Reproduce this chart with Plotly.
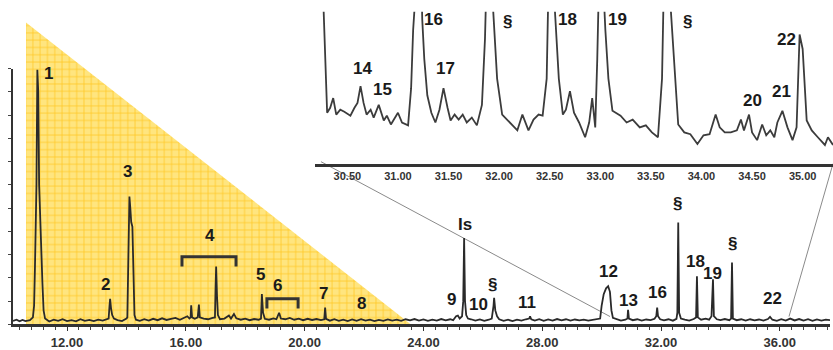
import plotly.graph_objects as go

# ---------------- data ----------------
# main chromatogram (retention time in min, detector response)
main_t = [10.18, 10.3, 10.4, 10.5, 10.6, 10.75, 10.85, 10.89, 10.92, 10.97, 11.0, 11.03, 11.06, 11.09, 11.14, 11.17, 11.21, 11.26,
          11.4, 11.55, 11.7, 11.85, 12.0, 12.15, 12.3, 12.45, 12.6, 12.75, 12.9, 13.05, 13.2, 13.35,
          13.4, 13.43, 13.45, 13.48, 13.52, 13.58, 13.7, 13.85, 13.95, 14.0,
          14.03, 14.07, 14.1, 14.13, 14.16, 14.2, 14.23, 14.27, 14.32,
          14.45, 14.6, 14.75, 14.9, 15.05, 15.2, 15.35, 15.5, 15.65, 15.8, 15.95, 16.05, 16.12,
          16.16, 16.18, 16.21, 16.3, 16.4, 16.44, 16.47, 16.6, 16.75, 16.9,
          16.98, 17.0, 17.02, 17.05, 17.08, 17.15, 17.3, 17.45, 17.52, 17.62, 17.7, 17.85, 18.0, 18.15, 18.3, 18.45,
          18.53, 18.56, 18.6, 18.66, 18.8, 18.95, 19.05, 19.14, 19.2, 19.35, 19.5, 19.65, 19.8, 19.95, 20.1, 20.25, 20.4, 20.55,
          20.66, 20.69, 20.72, 20.85, 21.0, 21.15, 21.3, 21.45, 21.6, 21.75, 21.9, 22.05, 22.2, 22.35, 22.5, 22.65, 22.8, 22.95,
          23.1, 23.25, 23.4, 23.55, 23.7, 23.85, 24.0, 24.15, 24.3, 24.45, 24.6, 24.75, 24.9, 25.0,
          25.1, 25.16, 25.22, 25.3, 25.34, 25.37, 25.4, 25.44, 25.5, 25.6, 25.75, 25.9, 26.05, 26.2, 26.3,
          26.36, 26.38, 26.42, 26.48, 26.55, 26.7, 26.85, 27.0, 27.15, 27.3, 27.45,
          27.56, 27.59, 27.63, 27.75, 27.9, 28.05, 28.2, 28.35, 28.5, 28.65, 28.8, 28.95, 29.1, 29.25, 29.4, 29.55, 29.7, 29.85,
          29.95, 30.0, 30.07, 30.15, 30.22, 30.28, 30.33, 30.38, 30.5, 30.65, 30.8,
          30.87, 30.89, 30.92, 31.05, 31.2, 31.35, 31.5, 31.65, 31.78,
          31.84, 31.87, 31.9, 31.97, 32.1, 32.25, 32.4, 32.52,
          32.55, 32.58, 32.61, 32.67, 32.8, 32.95, 33.1, 33.18,
          33.21, 33.24, 33.35, 33.5, 33.62, 33.7,
          33.75, 33.78, 33.88, 34.0, 34.15, 34.3, 34.36,
          34.39, 34.42, 34.55, 34.7, 34.85, 35.0, 35.15, 35.3, 35.45, 35.6,
          35.67, 35.75, 35.9, 36.05, 36.2, 36.35, 36.5, 36.65, 36.8, 36.95, 37.1, 37.25, 37.4, 37.55, 37.69]
main_v = [1.5, 2.0, 1.3, 1.9, 1.4, 1.8, 3.0, 8.0, 25.0, 60.0, 109.5, 100.0, 60.0, 45.0, 28.0, 18.0, 6.0, 2.5,
          1.2, 2.0, 1.5, 2.2, 1.4, 1.8, 1.3, 2.2, 1.5, 1.9, 1.4, 2.0, 1.6, 2.2,
          2.5, 8.0, 11.0, 7.0, 4.0, 2.5, 1.8, 1.4, 2.0, 2.5,
          3.0, 25.0, 55.0, 50.0, 44.0, 42.0, 20.0, 4.0, 2.0,
          1.5, 2.2, 1.6, 2.4, 1.8, 2.6, 1.9, 2.4, 2.8, 2.0, 2.8, 3.5, 2.5,
          3.0, 8.2, 3.0, 2.4, 3.0, 8.5, 3.0, 2.5, 2.2, 2.8,
          3.0, 15.0, 24.9, 12.0, 4.0, 2.2, 2.5, 3.8, 2.5, 4.5, 2.6, 2.0, 2.5, 1.8, 2.3, 2.0,
          2.5, 13.0, 5.0, 2.4, 2.0, 2.6, 2.2, 5.0, 2.5, 2.2, 2.8, 2.0, 2.5, 1.8, 2.4, 1.9, 2.3, 1.8,
          2.2, 7.2, 2.4, 1.6, 2.2, 1.5, 2.0, 1.4, 2.1, 1.5, 2.2, 1.6, 2.0, 1.4, 1.9, 1.5, 2.1, 1.6,
          2.0, 1.5, 2.2, 1.7, 2.3, 1.6, 2.1, 1.5, 2.0, 1.6, 2.3, 1.7, 2.2, 1.8,
          3.5, 3.8, 2.5, 3.5, 10.0, 37.1, 10.0, 4.0, 2.5, 2.2, 1.6, 2.1, 1.5, 2.0, 2.5,
          8.0, 11.4, 6.0, 3.5, 2.2, 1.5, 2.0, 1.4, 2.0, 1.6, 2.2,
          2.5, 3.5, 2.2, 1.6, 2.2, 1.5, 2.1, 1.6, 2.3, 1.7, 2.2, 1.6, 2.1, 1.7, 2.0, 1.6, 2.0, 2.3,
          2.5, 8.0, 13.0, 15.5, 16.4, 14.0, 6.0, 2.8, 2.2, 1.6, 2.0,
          2.5, 6.3, 2.5, 1.8, 2.2, 1.6, 2.1, 1.8, 2.4,
          3.5, 7.2, 3.5, 2.2, 1.7, 2.2, 1.6, 2.4,
          5.0, 43.8, 5.0, 2.5, 2.0, 1.6, 2.3, 3.0,
          20.7, 3.0, 2.0, 2.5, 2.0, 3.5,
          19.4, 3.5, 2.2, 1.8, 2.3, 1.8, 2.5,
          26.6, 2.5, 1.8, 2.2, 1.6, 2.2, 1.7, 2.1, 1.6, 2.3,
          3.2, 2.0, 1.5, 2.2, 1.6, 2.5, 1.7, 2.3, 1.6, 2.2, 1.5, 2.1, 1.6, 2.0, 1.8]

# inset (enlarged 30.2 - 35.3 min region)
inset_t = [30.24, 30.28, 30.30, 30.33, 30.36, 30.39, 30.43, 30.47, 30.53, 30.57, 30.60, 30.63, 30.66, 30.69, 30.73, 30.76,
           30.81, 30.86, 30.89, 30.93, 30.97, 31.00, 31.04, 31.10, 31.13, 31.15, 31.22, 31.24, 31.26, 31.29, 31.33, 31.37,
           31.41, 31.45, 31.49, 31.52, 31.56, 31.60, 31.64, 31.68, 31.73, 31.78, 31.83, 31.86, 31.89, 31.95, 31.98, 32.03,
           32.08, 32.13, 32.18, 32.23, 32.29, 32.34, 32.39, 32.43, 32.47, 32.50, 32.56, 32.59, 32.63, 32.66, 32.70, 32.74,
           32.79, 32.85, 32.89, 32.92, 32.95, 32.97, 33.00, 33.05, 33.08, 33.12, 33.20, 33.26, 33.32, 33.39, 33.45, 33.51,
           33.57, 33.61, 33.64, 33.71, 33.74, 33.77, 33.83, 33.89, 33.96, 34.02, 34.08, 34.14, 34.18, 34.23, 34.29, 34.35,
           34.39, 34.42, 34.47, 34.50, 34.55, 34.60, 34.64, 34.68, 34.72, 34.75, 34.80, 34.85, 34.90, 34.94, 34.97, 35.00,
           35.04, 35.09, 35.15, 35.22, 35.25, 35.30]
inset_v = [150, 69, 33.5, 36.8, 43.2, 32.3, 35.5, 34.2, 31.6, 36.8, 40, 51, 40, 32.3, 35.5, 30.3,
           38.7, 28.4, 31.6, 25.8, 30.3, 33.5, 27.1, 25.2, 49.7, 88, 160, 95, 69, 45, 33.5, 27.1,
           35.5, 49.7, 36.8, 28.4, 32.3, 29, 32.3, 27.1, 30.3, 25.2, 38.7, 82, 160, 88, 56, 32.3,
           29, 25.8, 21.9, 32.3, 21.9, 29, 32.3, 31.6, 56, 160, 88, 56, 32.3, 35.5, 47.7, 33.5,
           27.1, 17.4, 27.1, 43.2, 23.9, 69, 160, 88, 56, 34.8, 31.6, 27.1, 29, 23.9, 25.2, 20.6,
           17.4, 56, 160, 88, 49.7, 25.8, 20.6, 19.4, 12.9, 18.7, 19.4, 32.3, 23.9, 20.6, 20.6, 21.9,
           29, 21.9, 32.3, 20.6, 15.5, 25.8, 18.7, 21.9, 17.4, 27.1, 34.8, 23.9, 15.5, 23.9, 85, 75.5,
           28.4, 21.9, 17.4, 12.3, 17.4, 12.3]

# peak labels on the main chromatogram
main_labels = ["1", "2", "3", "4", "5", "6", "7", "8", "9", "Is", "10", "§", "11", "12", "13", "16", "§", "18", "19", "§", "22"]
main_label_t = [11.36, 13.28, 14.02, 16.81, 18.53, 19.10, 20.62, 21.90, 24.93, 25.40, 25.87, 26.34, 27.49,
                30.22, 30.89, 31.87, 32.57, 33.17, 33.74, 34.42, 35.77]
main_label_v = [107.9, 17.3, 65.7, 38.4, 21.5, 16.9, 13.1, 8.9, 10.5, 43.0, 8.4, 17.3, 9.3,
                22.8, 10.1, 13.5, 51.8, 27.0, 21.9, 34.6, 11.0]

# peak labels in the inset
inset_labels = ["14", "15", "16", "17", "§", "18", "19", "§", "20", "21", "22"]
inset_label_t = [30.65, 30.85, 31.35, 31.47, 32.08, 32.68, 33.17, 33.86, 34.50, 34.79, 34.84]
inset_label_v = [62.6, 49.0, 94.8, 62.6, 93.5, 94.8, 94.8, 93.5, 41.3, 47.7, 82.0]

# group brackets (retention-time span, bar level, foot level)
bracket_t0 = [15.87, 18.73]
bracket_t1 = [17.69, 19.78]
bracket_top = [29.1, 11.0]
bracket_foot = [24.9, 6.8]

W, H = 833, 350
LABEL_FONT = "Liberation Sans, Arial, sans-serif"
DARK = "#2a2a2a"

fig = go.Figure()

# background decoration: yellow gridded triangle (pixel-space axes x/y)
fig.add_trace(go.Scatter(
    x=[26, 26, 411, 26], y=[23, 331, 331, 23], xaxis="x", yaxis="y",
    mode="lines", line=dict(width=0), fill="toself",
    fillcolor="#FFE47C",
    fillpattern=dict(shape="+", bgcolor="#FFE57F", fgcolor="#FFC828", size=7.3, solidity=0.2, fillmode="replace"),
    hoverinfo="skip", showlegend=False))

# zoom connector lines
fig.add_trace(go.Scatter(x=[321, 610], y=[165, 323], xaxis="x", yaxis="y", mode="lines",
                         line=dict(color="#8a8a8a", width=1), hoverinfo="skip", showlegend=False))
fig.add_trace(go.Scatter(x=[833, 789], y=[167, 323], xaxis="x", yaxis="y", mode="lines",
                         line=dict(color="#8a8a8a", width=1), hoverinfo="skip", showlegend=False))

# main chromatogram
fig.add_trace(go.Scatter(x=main_t, y=main_v, xaxis="x2", yaxis="y2", mode="lines",
                         line=dict(color=DARK, width=1.8), showlegend=False))

# inset chromatogram
fig.add_trace(go.Scatter(x=inset_t, y=inset_v, xaxis="x3", yaxis="y3", mode="lines",
                         line=dict(color="#3c3c3c", width=1.8), showlegend=False))

annotations = []
for txt, t, v in zip(main_labels, main_label_t, main_label_v):
    annotations.append(dict(x=t, y=v, xref="x2", yref="y2", text=txt, showarrow=False,
                            font=dict(family=LABEL_FONT, size=17, color="#1a1a1a", weight="bold")))
for txt, t, v in zip(inset_labels, inset_label_t, inset_label_v):
    annotations.append(dict(x=t, y=v, xref="x3", yref="y3", text=txt, showarrow=False,
                            font=dict(family=LABEL_FONT, size=17, color="#1a1a1a", weight="bold")))

shapes = []
for a, b, top, foot in zip(bracket_t0, bracket_t1, bracket_top, bracket_foot):
    shapes.append(dict(type="path", xref="x2", yref="y2",
                       path=f"M {a},{foot} L {a},{top} L {b},{top} L {b},{foot}",
                       line=dict(color="#333333", width=3)))

main_x0, main_x1 = 13 / W, 830 / W
main_y0, main_y1 = 1 - 331 / H, 1 - 70 / H
ins_x0, ins_x1 = 315 / W, 1.0
ins_y0, ins_y1 = 1 - 167 / H, 1 - 12 / H

fig.update_layout(
    width=W, height=H,
    margin=dict(l=0, r=0, t=0, b=0),
    paper_bgcolor="white", plot_bgcolor="rgba(0,0,0,0)",
    showlegend=False,
    xaxis=dict(domain=[0, 1], range=[0, W], visible=False, fixedrange=True),
    yaxis=dict(domain=[0, 1], range=[H, 0], visible=False, fixedrange=True),
    xaxis2=dict(domain=[main_x0, main_x1], range=[10.18, 37.69], anchor="y2",
                showline=True, linecolor="#333333", linewidth=3, showgrid=False, zeroline=False,
                ticks="outside", tick0=12, dtick=4, ticklen=4, tickwidth=1, tickcolor="#333333",
                tickformat=".2f",
                minor=dict(ticks="outside", dtick=0.4, tick0=12, ticklen=3, tickcolor="#444444", showgrid=False),
                tickfont=dict(family="Liberation Sans, Arial, sans-serif", size=13, color="#333333", weight="bold")),
    yaxis2=dict(domain=[main_y0, main_y1], range=[0, 110], anchor="x2",
                showline=True, linecolor="#333333", linewidth=2, showgrid=False, zeroline=False,
                ticks="outside", dtick=10, ticklen=3, tickcolor="#444444", showticklabels=False),
    xaxis3=dict(domain=[ins_x0, ins_x1], range=[30.18, 35.30], anchor="y3",
                showline=True, linecolor="#333333", linewidth=3, showgrid=False, zeroline=False,
                ticks="", tick0=30.5, dtick=0.5, tickformat=".2f",
                tickfont=dict(family=LABEL_FONT, size=11, color="#333333", weight="bold")),
    yaxis3=dict(domain=[ins_y0, ins_y1], range=[0, 100], anchor="x3", visible=False),
    annotations=annotations,
    shapes=shapes,
)

fig.write_html("out.html", config={"displayModeBar": False},
               post_script="document.body.style.margin='0px';document.body.style.overflow='hidden';")
